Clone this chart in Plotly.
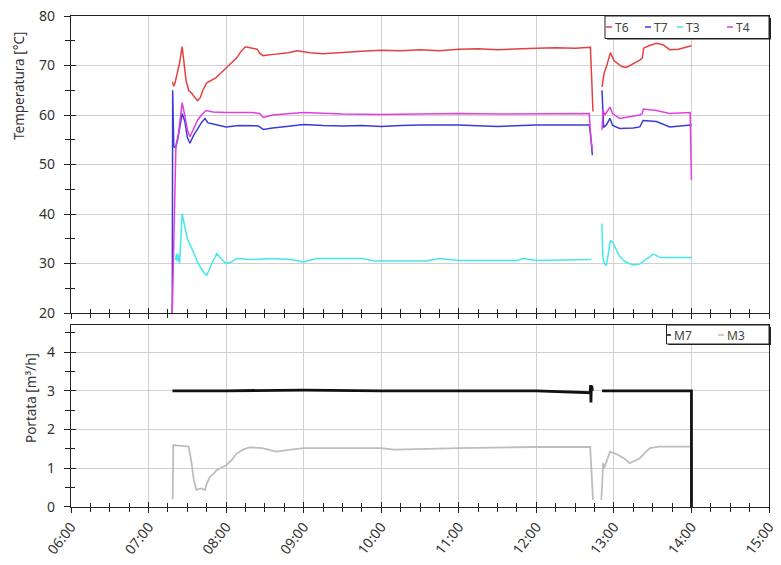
import pandas as pd
import plotly.graph_objects as go

DAY = "2021-01-01 "

# ---------------- data ----------------
t6_time = ["07:18:30", "07:19:30", "07:20:30", "07:22:00", "07:24:00", "07:26:00", "07:27:00", "07:29:00",
           "07:31:00", "07:33:00", "07:36:00", "07:38:00", "07:40:00", "07:42:00", "07:45:00", "07:48:00",
           "07:52:00", "07:56:00", "08:00:00", "08:04:00", "08:08:00", "08:12:00", "08:15:00", "08:20:00",
           "08:24:00", "08:26:00", "08:28:30", "08:35:00", "08:42:00", "08:48:00", "08:55:00", "09:05:00",
           "09:15:00", "09:30:00", "09:45:00", "10:00:00", "10:15:00", "10:30:00", "10:45:00", "11:00:00",
           "11:15:00", "11:30:00", "11:45:00", "12:00:00", "12:15:00", "12:30:00", "12:41:50", "12:42:30",
           "12:43:50", None,
           "12:50:50", "12:52:30", "12:54:30", "12:57:20", "13:00:00", "13:03:10", "13:06:00", "13:09:40",
           "13:15:00", "13:20:00", "13:22:00", "13:23:00", "13:27:00", "13:33:00", "13:38:00", "13:43:10",
           "13:50:00", "13:55:00", "14:00:00"]
t6_vals = [66.7, 65.8, 66.5, 68.0, 70.5, 73.8, 71.0, 67.0,
           65.0, 64.5, 63.5, 62.9, 63.5, 65.0, 66.5, 67.0,
           67.5, 68.5, 69.4, 70.5, 71.5, 73.0, 73.8, 73.6,
           73.3, 72.5, 72.0, 72.2, 72.4, 72.6, 73.0, 72.6,
           72.4, 72.7, 72.9, 73.1, 73.0, 73.2, 73.0, 73.3,
           73.4, 73.2, 73.4, 73.5, 73.6, 73.5, 73.7, 68.0,
           60.7, None,
           65.7, 68.5, 70.0, 72.6, 71.0, 70.4, 69.8, 69.6,
           70.3, 71.1, 71.5, 73.5, 74.0, 74.5, 74.2, 73.2,
           73.3, 73.7, 74.0]

t7_time = ["07:18:20", "07:18:40", "07:19:30", "07:21:00", "07:22:30", "07:24:30", "07:26:00", "07:28:00",
           "07:30:00", "07:32:00", "07:35:00", "07:38:00", "07:41:00", "07:43:40", "07:46:00", "07:50:00",
           "08:00:00", "08:10:00", "08:20:00", "08:25:00", "08:28:40", "08:36:00", "08:50:00", "09:00:00",
           "09:15:00", "09:30:00", "09:45:00", "10:00:00", "10:15:00", "10:30:00", "11:00:00", "11:20:00",
           "11:30:00", "12:00:00", "12:20:00", "12:41:00", "12:42:00", "12:42:40", "12:43:20", None,
           "12:50:50", "12:51:20", "12:52:00", "12:54:10", "12:57:00", "12:59:00", "13:04:30", "13:15:00",
           "13:20:00", "13:22:40", "13:33:00", "13:43:10", "13:55:00", "13:59:30", "14:00:00"]
t7_vals = [20.0, 65.0, 53.6, 53.4, 55.0, 58.5, 60.3, 58.8,
           55.5, 54.3, 56.0, 57.2, 58.5, 59.3, 58.4, 58.2,
           57.6, 57.9, 57.9, 57.8, 57.1, 57.4, 57.8, 58.1,
           57.9, 57.8, 57.9, 57.7, 57.9, 58.0, 58.0, 57.8,
           57.7, 58.0, 58.0, 58.0, 56.0, 54.0, 51.9, None,
           65.0, 59.0, 57.5, 58.0, 59.3, 57.9, 57.3, 57.4,
           57.6, 58.9, 58.7, 57.6, 58.0, 58.0, 57.8]

t3_time = ["07:21:00", "07:21:40", "07:22:20", "07:23:00", "07:24:00", "07:26:00", "07:28:00", "07:30:00",
           "07:34:00", "07:38:30", "07:42:00", "07:45:00", "07:49:00", "07:52:40", "07:56:00", "08:00:00",
           "08:04:00", "08:08:00", "08:20:00", "08:35:00", "08:50:00", "09:00:00", "09:10:00", "09:45:00",
           "09:55:00", "10:35:00", "10:45:00", "11:00:00", "11:45:00", "11:50:00", "12:00:00", "12:42:30",
           None,
           "12:50:40", "12:51:30", "12:52:30", "12:54:10", "12:56:00", "12:57:20", "12:59:00", "13:04:30",
           "13:09:00", "13:14:50", "13:20:00", "13:25:00", "13:30:20", "13:36:00", "14:00:00"]
t3_vals = [30.7, 32.0, 30.5, 31.8, 30.0, 40.1, 37.5, 35.0,
           32.7, 30.0, 28.5, 27.6, 30.0, 32.0, 31.0, 30.0,
           30.3, 31.0, 30.8, 31.0, 30.8, 30.3, 31.0, 31.0,
           30.5, 30.5, 31.0, 30.6, 30.6, 31.0, 30.6, 30.8,
           None,
           38.1, 31.4, 30.0, 29.7, 32.5, 34.7, 34.3, 31.4,
           30.3, 29.7, 29.9, 30.8, 31.9, 31.2, 31.2]

t4_time = ["07:18:20", "07:21:10", "07:23:00", "07:24:30", "07:26:00", "07:28:00", "07:30:00", "07:32:00",
           "07:35:00", "07:38:00", "07:41:00", "07:44:30", "07:50:00", "08:00:00", "08:20:00", "08:26:00",
           "08:28:40", "08:36:00", "08:50:00", "09:00:00", "09:30:00", "10:00:00", "10:30:00", "11:00:00",
           "11:30:00", "12:00:00", "12:41:00", "12:42:00", "12:43:20", None,
           "12:50:50", "12:51:30", "12:53:00", "12:57:00", "12:59:00", "13:04:30", "13:20:00", "13:22:00",
           "13:22:40", "13:33:00", "13:43:10", "13:59:00", "14:00:00"]
t4_vals = [20.0, 53.9, 56.0, 59.5, 62.5, 60.0, 57.0, 55.6,
           57.5, 59.0, 60.0, 60.9, 60.6, 60.5, 60.5, 60.3,
           59.5, 60.0, 60.3, 60.5, 60.2, 60.1, 60.2, 60.3,
           60.2, 60.3, 60.3, 55.6, 53.0, None,
           57.0, 61.0, 60.0, 61.6, 60.3, 59.3, 60.0, 60.3,
           61.2, 60.9, 60.3, 60.5, 46.9]

m7_time = ["07:18:30", "08:00:00", "09:00:00", "10:00:00", "11:00:00", "12:00:00", "12:41:40", "12:42:00",
           "12:42:15", "12:42:30", "12:42:45", "12:43:00", "12:43:20", None,
           "12:50:50", "13:30:00", "14:00:00", "14:00:01"]
m7_vals = [3.0, 3.0, 3.02, 3.0, 3.0, 3.0, 2.95, 3.15,
           2.7, 3.12, 2.72, 3.1, 3.0, None,
           3.0, 3.0, 3.0, 0.0]

m3_time = ["07:18:40", "07:19:10", "07:25:00", "07:31:00", "07:33:00", "07:35:00", "07:37:00", "07:41:00",
           "07:43:40", "07:45:00", "07:47:30", "07:50:00", "07:52:40", "07:56:00", "08:00:00", "08:04:00",
           "08:08:00", "08:13:00", "08:18:00", "08:28:00", "08:34:00", "08:39:00", "08:50:00", "09:00:00",
           "10:00:00", "10:10:00", "11:00:00", "12:00:00", "12:41:40", "12:43:50", None,
           "12:50:20", "12:51:00", "12:51:40", "12:52:30", "12:57:00", "13:03:00", "13:08:00", "13:12:10",
           "13:20:00", "13:24:00", "13:27:50", "13:35:00", "13:59:50", "14:00:00"]
m3_vals = [0.2, 1.6, 1.58, 1.56, 1.2, 0.7, 0.44, 0.48,
           0.44, 0.6, 0.78, 0.85, 0.95, 1.0, 1.08, 1.2,
           1.38, 1.48, 1.54, 1.52, 1.47, 1.43, 1.48, 1.52,
           1.52, 1.48, 1.52, 1.55, 1.55, 0.18, None,
           0.18, 0.9, 1.13, 1.0, 1.43, 1.35, 1.25, 1.13,
           1.26, 1.4, 1.52, 1.56, 1.56, 0.0]

hour_ticks = ["06:00", "07:00", "08:00", "09:00", "10:00", "11:00", "12:00", "13:00", "14:00", "15:00"]
temp_ticks = [20, 30, 40, 50, 60, 70, 80]
flow_ticks = [0, 1, 2, 3, 4]


def to_dt(lst):
    return [pd.Timestamp(DAY + s) if s else None for s in lst]


FONT = "Noto Sans"
TXT = "#333333"
GRID = "#d0d0d0"

fig = go.Figure()

temp_series = [("T6", t6_time, t6_vals, "#e5403f"),
               ("T7", t7_time, t7_vals, "#3b3bd6"),
               ("T3", t3_time, t3_vals, "#45e8e8"),
               ("T4", t4_time, t4_vals, "#e03fe0")]
for name, tt, vv, col in temp_series:
    fig.add_trace(go.Scatter(x=to_dt(tt), y=vv, name=name, mode="lines", connectgaps=False,
                             line=dict(color=col, width=1.5), xaxis="x", yaxis="y", showlegend=False))

fig.add_trace(go.Scatter(x=to_dt(m3_time), y=m3_vals, name="M3", mode="lines", connectgaps=False,
                         line=dict(color="#bdbdbd", width=1.8), xaxis="x2", yaxis="y2", showlegend=False))
fig.add_trace(go.Scatter(x=to_dt(m7_time), y=m7_vals, name="M7", mode="lines", connectgaps=False,
                         line=dict(color="#111111", width=2.8), xaxis="x2", yaxis="y2", showlegend=False))

# dummy traces for overlay (inside tick) axes
for xa, ya in [("x3", "y3"), ("x4", "y4")]:
    fig.add_trace(go.Scatter(x=[None], y=[None], xaxis=xa, yaxis=ya, showlegend=False, hoverinfo="skip"))

xr = [pd.Timestamp(DAY + hour_ticks[0]), pd.Timestamp(DAY + hour_ticks[-1])]
tickvals = [pd.Timestamp(DAY + h) for h in hour_ticks]

TOP_DOM = [0.395, 1.0]
BOT_DOM = [0.0, 0.3707]

base_x = dict(range=xr, type="date", tickvals=tickvals, ticktext=hour_ticks, automargin=False,
              showline=True, linecolor="#222222", linewidth=1.3, mirror=True,
              showgrid=True, gridcolor=GRID, gridwidth=1, zeroline=False,
              ticks="outside", ticklen=5, tickwidth=1, tickcolor="#222222", ticklabeloverflow="allow",
              minor=dict(dtick=900000, tick0=xr[0], ticks="outside", ticklen=4, tickcolor="#222222", showgrid=False),
              tickfont=dict(family=FONT, size=14, color=TXT))
in_x = dict(range=xr, type="date", tickvals=tickvals, showline=False, showgrid=False, zeroline=False,
            automargin=False, showticklabels=False, ticks="inside", ticklen=5, tickwidth=1, tickcolor="#222222",
            minor=dict(dtick=900000, tick0=xr[0], ticks="inside", ticklen=4, tickcolor="#222222", showgrid=False))

# the page body has an 8px margin, so the figure is drawn 8px in from the window corner
fig.update_layout(
    width=773, height=557,
    margin=dict(l=63, r=12, t=8, b=58, autoexpand=False),
    paper_bgcolor="white", plot_bgcolor="white",
    showlegend=False,
    xaxis=dict(base_x, anchor="y", domain=[0, 1], showticklabels=False),
    xaxis2=dict(base_x, anchor="y2", domain=[0, 1], tickangle=-52),
    xaxis3=dict(in_x, anchor="y", overlaying="x"),
    xaxis4=dict(in_x, anchor="y2", overlaying="x2"),
    yaxis=dict(domain=TOP_DOM, range=[20, 80], tickvals=temp_ticks, showline=True, linecolor="#222222",
               linewidth=1.3, mirror=True, showgrid=True, gridcolor=GRID, zeroline=False, automargin=False,
               ticks="outside", ticklen=6, tickcolor="#222222", ticklabeloverflow="allow",
               minor=dict(dtick=5, tick0=20, ticks="outside", ticklen=5, tickcolor="#222222", showgrid=False),
               tickfont=dict(family=FONT, size=14, color=TXT), ticklabelstandoff=6),
    yaxis2=dict(domain=BOT_DOM, range=[0, 4.7], tickvals=flow_ticks, showline=True, linecolor="#222222",
                linewidth=1.3, mirror=True, showgrid=True, gridcolor=GRID, zeroline=False, automargin=False,
                ticks="outside", ticklen=6, tickcolor="#222222", ticklabeloverflow="allow",
                minor=dict(dtick=0.5, tick0=0, ticks="outside", ticklen=5, tickcolor="#222222", showgrid=False),
                tickfont=dict(family=FONT, size=14, color=TXT), ticklabelstandoff=6),
    yaxis3=dict(domain=TOP_DOM, range=[20, 80], tickvals=temp_ticks, overlaying="y", anchor="x",
                showline=False, showgrid=False, zeroline=False, showticklabels=False, automargin=False,
                ticks="inside", ticklen=5, tickcolor="#222222",
                minor=dict(dtick=5, tick0=20, ticks="inside", ticklen=4, tickcolor="#222222")),
    yaxis4=dict(domain=BOT_DOM, range=[0, 4.7], tickvals=flow_ticks, overlaying="y2", anchor="x2",
                showline=False, showgrid=False, zeroline=False, showticklabels=False, automargin=False,
                ticks="inside", ticklen=5, tickcolor="#222222",
                minor=dict(dtick=0.5, tick0=0, ticks="inside", ticklen=4, tickcolor="#222222")),
)

# window-pixel -> paper helpers (plot area spans x 71..769, y 16..507 in the window)
PL, PR, PT, PB = 71, 769, 16, 507


def px(x):
    return (x - PL) / (PR - PL)


def py(y):
    return (PB - y) / (PB - PT)


shapes = []
annotations = []

# axis titles
annotations.append(dict(text="Temperatura [°C]", x=px(19), y=py(86), xref="paper", yref="paper",
                        xanchor="center", yanchor="middle",
                        textangle=-90, showarrow=False, font=dict(family=FONT, size=13.5, color=TXT)))
annotations.append(dict(text="Portata [m³/h]", x=px(31), y=py(398), xref="paper", yref="paper",
                        xanchor="center", yanchor="middle",
                        textangle=-90, showarrow=False, font=dict(family=FONT, size=13.5, color=TXT)))


def make_legend(box, entries, line_y):
    x0, y0, x1, y1 = box
    # shadow
    shapes.append(dict(type="rect", xref="paper", yref="paper", x0=px(x0 + 2), x1=px(x1 + 2),
                       y0=py(y1 + 1), y1=py(y0 + 2), fillcolor="#222222", line=dict(width=0)))
    shapes.append(dict(type="rect", xref="paper", yref="paper", x0=px(x0), x1=px(x1), y0=py(y1), y1=py(y0),
                       fillcolor="white", line=dict(color="#222222", width=1)))
    for name, col, lx, lw in entries:
        shapes.append(dict(type="line", xref="paper", yref="paper", x0=px(lx), x1=px(lx + lw),
                           y0=py(line_y), y1=py(line_y), line=dict(color=col, width=1.5)))
        annotations.append(dict(text=name, x=px(lx + lw + 0.5), y=py(line_y), xref="paper", yref="paper",
                                xanchor="left", yanchor="middle", showarrow=False,
                                font=dict(family=FONT, size=12, color="#444444")))


make_legend((605, 16, 769, 38.5),
            [("T6", "#e5403f", 606, 6), ("T7", "#3b3bd6", 645, 6), ("T3", "#45e8e8", 677, 6),
             ("T4", "#e03fe0", 727, 6)], 27)
make_legend((666.5, 325, 769, 344),
            [("M7", "#111111", 667, 4), ("M3", "#bdbdbd", 718, 6)], 335)

fig.update_layout(shapes=shapes, annotations=annotations)

fig.write_html("out.html")
